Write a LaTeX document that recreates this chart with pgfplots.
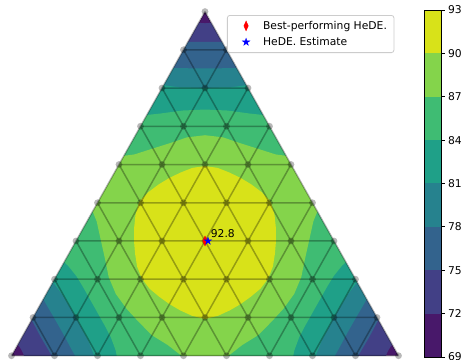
\documentclass[border=0pt]{standalone}
\usepackage{fontspec}
\setmainfont{DejaVu Sans}
\usepackage{pgfplots}
\pgfplotsset{compat=1.18}

\definecolor{v1}{HTML}{48186A}
\definecolor{v2}{HTML}{424086}
\definecolor{v3}{HTML}{33638D}
\definecolor{v4}{HTML}{26828E}
\definecolor{v5}{HTML}{1FA088}
\definecolor{v6}{HTML}{3FBC73}
\definecolor{v7}{HTML}{84D44B}
\definecolor{v8}{HTML}{D8E219}
\definecolor{legendedge}{HTML}{CCCCCC}

\newcommand\chartfont{\fontsize{10.75bp}{13bp}\selectfont}

% filled five-pointed star marker
\pgfdeclareplotmark{fivestar}{%
  \pgfpathmoveto{\pgfqpointpolar{90}{\pgfplotmarksize}}%
  \pgfpathlineto{\pgfqpointpolar{126}{0.382\pgfplotmarksize}}%
  \pgfpathlineto{\pgfqpointpolar{162}{\pgfplotmarksize}}%
  \pgfpathlineto{\pgfqpointpolar{198}{0.382\pgfplotmarksize}}%
  \pgfpathlineto{\pgfqpointpolar{234}{\pgfplotmarksize}}%
  \pgfpathlineto{\pgfqpointpolar{270}{0.382\pgfplotmarksize}}%
  \pgfpathlineto{\pgfqpointpolar{306}{\pgfplotmarksize}}%
  \pgfpathlineto{\pgfqpointpolar{342}{0.382\pgfplotmarksize}}%
  \pgfpathlineto{\pgfqpointpolar{18}{\pgfplotmarksize}}%
  \pgfpathlineto{\pgfqpointpolar{54}{0.382\pgfplotmarksize}}%
  \pgfpathclose
  \pgfusepathqfillstroke}

% legend image: a single marker inside a fixed-size cell
\pgfplotsset{
  single mark legend/.style={
    legend image code/.code={%
      \path[draw=none, fill=none] (-11.7bp,-8.1bp) rectangle (17bp,8.1bp);
      \draw[##1] plot coordinates {(0bp,0bp)};}},
}

\begin{document}
\begin{tikzpicture}[x=1bp,y=1bp]
\useasboundingbox (0bp,0bp) rectangle (464bp,360bp);

% ---------------- ternary contour panel ----------------
\begin{axis}[
  at={(0bp,0bp)}, anchor=south west,
  scale only axis, width=464bp, height=360bp,
  xmin=-205, xmax=259, ymin=-115.87, ymax=234.66,
  hide axis,
  legend style={
    at={(0.4892,0.9583)}, anchor=north west,
    draw=legendedge, line width=0.8bp, rounded corners=2.5bp, fill=white,
    font=\chartfont, inner xsep=7bp, inner ysep=2.4bp,
    row sep=0bp, column sep=0bp,
    nodes={inner sep=0bp},
  },
  legend cell align=left,
]

% contour bands (level curves in polar form about the centroid)
\addplot[fill=v1, draw=none, forget plot] coordinates {(0,223.4) (-193.5,-111.7) (193.5,-111.7)};

% level 72
\addplot[fill=v2, draw=none, data cs=polar, forget plot] coordinates {
(30,260) (80,235) (86,218) (88,213) (89,212.2) (90,212) (91,212.2) (92,213) (94,218) (100,235)
(150,260) (200,235) (206,218) (208,213) (209,212.2) (210,212) (211,212.2) (212,213) (214,218) (220,235)
(270,260) (320,235) (326,218) (328,213) (329,212.2) (330,212) (331,212.2) (332,213) (334,218) (340,235)};

% level 75
\addplot[fill=v3, draw=none, data cs=polar, forget plot] coordinates {
(30,240) (70,225) (80,205) (84,195) (86,194.3) (88,194) (90,194) (92,194) (94,194.3) (96,195) (100,205) (110,225)
(150,240) (190,225) (200,205) (202,193) (204,189.6) (206,189.2) (208,189) (210,189) (212,189) (214,189.2) (216,189.6) (218,193) (220,205) (230,225)
(270,240) (310,225) (320,205) (322,193) (324,189.6) (326,189.2) (328,189) (330,189) (332,189) (334,189.2) (336,189.6) (338,193) (340,205) (350,225)};

% level 78
\addplot[fill=v4, draw=none, data cs=polar, forget plot] coordinates {
(30,220) (50,215) (65,200) (75,180) (79,171.5) (82,170) (86,168.5) (90,168) (94,168.5) (98,170) (101,171.5) (105,180) (115,200) (130,215)
(150,220) (170,215) (185,200) (195,180) (199,171.5) (202,170) (206,168.5) (210,168) (214,168.5) (218,170) (221,171.5) (225,180) (235,200) (250,215)
(270,220) (290,215) (305,200) (315,180) (319,171.5) (322,170) (326,168.5) (330,168) (334,168.5) (338,170) (341,171.5) (345,180) (355,200) (370,215)};

% level 81
\addplot[fill=v5, draw=none, data cs=polar, forget plot] coordinates {
(30,205) (45,200) (60,185) (70,168) (75,157) (80,152) (85,150) (90,149) (95,150) (100,152) (105,157) (110,168) (120,185) (135,200)
(150,205) (165,200) (180,185) (190,168) (195,157) (200,152) (205,150) (210,149) (215,150) (220,152) (225,157) (230,168) (240,185) (255,200)
(270,205) (285,200) (300,185) (310,168) (315,157) (320,152) (325,150) (330,149) (335,150) (340,152) (345,157) (350,168) (360,185) (375,200)};

% level 84
\addplot[fill=v6, draw=none, data cs=polar, forget plot] coordinates {
(30,175) (40,170) (50,160) (60,142) (65,135.5) (70,132) (80,129) (90,128) (100,129) (110,132) (115,135.5) (120,142) (130,160) (140,170)
(150,175) (170,165) (180,160) (185,150) (190,139) (195,133) (200,130) (210,128) (220,130) (225,133) (230,139) (235,150) (240,160) (250,165)
(270,175) (290,165) (300,160) (305,150) (310,139) (315,133) (320,130) (330,128) (340,130) (345,133) (350,139) (355,150) (360,160) (370,165)};

% level 87
\addplot[fill=v7, draw=none, data cs=polar, forget plot] coordinates {
(30,130) (40,124) (45,117) (50,110) (60,104) (70,101.5) (80,102.5) (90,103) (100,102.5) (110,101.5) (120,104) (130,110) (135,117) (140,124)
(150,130) (160,124) (165,117) (170,110) (180,104) (190,101.5) (200,102.5) (210,103) (220,102.5) (230,103) (240,106) (250,108) (255,111.5) (260,116) (265,122)
(270,126) (275,122) (280,116) (285,111.5) (290,108) (300,106) (310,103) (320,102.5) (330,103) (340,102.5) (350,101.5) (360,104) (370,110) (375,117) (380,124)};

% level 90
\addplot[fill=v8, draw=none, data cs=polar, forget plot] coordinates {
(30,76) (40,74) (50,72) (60,71) (70,71) (80,72.3) (90,73) (100,72.3) (110,71) (120,71) (130,72) (140,74)
(150,76) (160,74) (170,72) (180,71) (190,71) (200,72.3) (210,73) (220,72.3) (230,71) (240,71) (250,72) (260,74)
(270,76) (280,74) (290,72) (300,71) (310,71) (320,72.3) (330,73) (340,72.3) (350,71) (360,71) (370,72) (380,74)};

% white masks outside the simplex
\addplot[fill=white, draw=none, forget plot] coordinates {(0,240) (0,223.4) (-193.5,-111.7) (-193.5,-120) (-210,-120) (-210,240)};
\addplot[fill=white, draw=none, forget plot] coordinates {(0,240) (0,223.4) (193.5,-111.7) (193.5,-120) (270,-120) (270,240)};
\addplot[fill=white, draw=none, forget plot] coordinates {(-210,-111.7) (210,-111.7) (210,-120) (-210,-120)};

% triangulation edges (one stroked path)
\addplot[black, draw opacity=0.3, line width=1.5bp, unbounded coords=jump, forget plot] coordinates {
(-21.5,186.17) (21.5,186.17) (nan,nan)
(-43,148.93) (43,148.93) (nan,nan)
(-64.5,111.7) (64.5,111.7) (nan,nan)
(-86,74.47) (86,74.47) (nan,nan)
(-107.5,37.23) (107.5,37.23) (nan,nan)
(-129,0) (129,0) (nan,nan)
(-150.5,-37.23) (150.5,-37.23) (nan,nan)
(-172,-74.47) (172,-74.47) (nan,nan)
(-193.5,-111.7) (193.5,-111.7) (nan,nan)
(0,223.4) (-193.5,-111.7) (nan,nan)
(21.5,186.17) (-150.5,-111.7) (nan,nan)
(43,148.93) (-107.5,-111.7) (nan,nan)
(64.5,111.7) (-64.5,-111.7) (nan,nan)
(86,74.47) (-21.5,-111.7) (nan,nan)
(107.5,37.23) (21.5,-111.7) (nan,nan)
(129,0) (64.5,-111.7) (nan,nan)
(150.5,-37.23) (107.5,-111.7) (nan,nan)
(172,-74.47) (150.5,-111.7) (nan,nan)
(0,223.4) (193.5,-111.7) (nan,nan)
(-21.5,186.17) (150.5,-111.7) (nan,nan)
(-43,148.93) (107.5,-111.7) (nan,nan)
(-64.5,111.7) (64.5,-111.7) (nan,nan)
(-86,74.47) (21.5,-111.7) (nan,nan)
(-107.5,37.23) (-21.5,-111.7) (nan,nan)
(-129,0) (-64.5,-111.7) (nan,nan)
(-150.5,-37.23) (-107.5,-111.7) (nan,nan)
(-172,-74.47) (-150.5,-111.7)};

% sampled mixture weights
\addplot[only marks, mark=*, mark size=3.4bp, color=black,
  mark options={draw opacity=0, fill=black, fill opacity=0.28}, forget plot] coordinates {
(0,223.4)
(-21.5,186.17) (21.5,186.17)
(-43,148.93) (0,148.93) (43,148.93)
(-64.5,111.7) (-21.5,111.7) (21.5,111.7) (64.5,111.7)
(-86,74.47) (-43,74.47) (0,74.47) (43,74.47) (86,74.47)
(-107.5,37.23) (-64.5,37.23) (-21.5,37.23) (21.5,37.23) (64.5,37.23) (107.5,37.23)
(-129,0) (-86,0) (-43,0) (0,0) (43,0) (86,0) (129,0)
(-150.5,-37.23) (-107.5,-37.23) (-64.5,-37.23) (-21.5,-37.23) (21.5,-37.23) (64.5,-37.23) (107.5,-37.23) (150.5,-37.23)
(-172,-74.47) (-129,-74.47) (-86,-74.47) (-43,-74.47) (0,-74.47) (43,-74.47) (86,-74.47) (129,-74.47) (172,-74.47)
(-193.5,-111.7) (-150.5,-111.7) (-107.5,-111.7) (-64.5,-111.7) (-21.5,-111.7) (21.5,-111.7) (64.5,-111.7) (107.5,-111.7) (150.5,-111.7) (193.5,-111.7)};

% best-performing mixture and the estimate
\addplot[only marks, mark=diamond*, mark size=4.8bp, color=red,
  mark options={xscale=0.6, fill=red, draw=red, line width=0.5bp, sharp corners},
  single mark legend]
  coordinates {(0,0)};
\addlegendentry{Best-performing HeDE.}

\addplot[only marks, mark=fivestar, mark size=3.8bp, color=blue,
  mark options={fill=blue, draw=blue, line width=0.4bp, sharp corners},
  single mark legend]
  coordinates {(3,0)};
\addlegendentry{HeDE. Estimate}

\node[anchor=base west, inner sep=0pt, font=\chartfont] at (axis cs:5.7,3.4) {92.8};
\end{axis}

% ---------------- colour bar ----------------
\begin{axis}[
  at={(424bp,3bp)}, anchor=south west,
  scale only axis, width=17bp, height=347bp,
  xmin=0, xmax=1, ymin=69, ymax=93,
  xtick=\empty,
  ytick={69,72,75,78,81,84,87,90,93},
  ytick pos=right, yticklabel pos=right,
  tick align=outside, major tick length=3.5bp,
  axis line style={line width=0.8bp, black},
  every tick/.style={black, line width=0.8bp},
  yticklabel style={font=\chartfont, /pgf/number format/assume math mode=true},
  axis on top,
]
\addplot[fill=v1, draw=none] coordinates {(0,69) (1,69) (1,72) (0,72)};
\addplot[fill=v2, draw=none] coordinates {(0,72) (1,72) (1,75) (0,75)};
\addplot[fill=v3, draw=none] coordinates {(0,75) (1,75) (1,78) (0,78)};
\addplot[fill=v4, draw=none] coordinates {(0,78) (1,78) (1,81) (0,81)};
\addplot[fill=v5, draw=none] coordinates {(0,81) (1,81) (1,84) (0,84)};
\addplot[fill=v6, draw=none] coordinates {(0,84) (1,84) (1,87) (0,87)};
\addplot[fill=v7, draw=none] coordinates {(0,87) (1,87) (1,90) (0,90)};
\addplot[fill=v8, draw=none] coordinates {(0,90) (1,90) (1,93) (0,93)};
\end{axis}
\end{tikzpicture}
\end{document}
